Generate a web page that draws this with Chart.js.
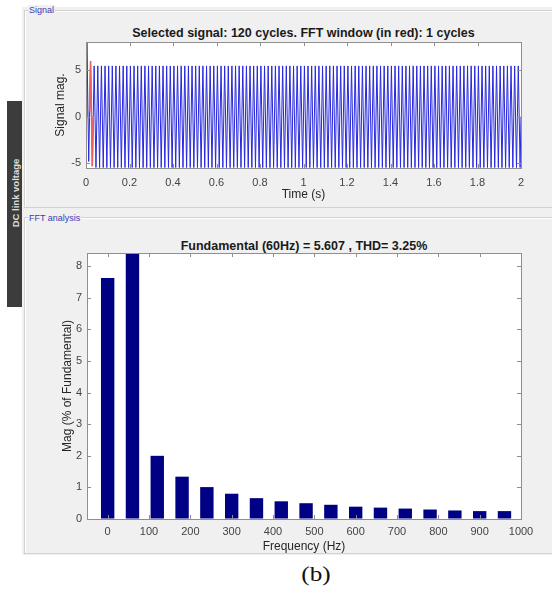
<!DOCTYPE html>
<html>
<head>
<meta charset="utf-8">
<script src="https://cdn.jsdelivr.net/npm/chart.js@4.4.1/dist/chart.umd.min.js"></script>
<style>
body { margin:0; background:#fff; font-family:"Liberation Sans", Arial, sans-serif; }
#page { position:relative; width:552px; height:592px; overflow:hidden; }
.abs { position:absolute; }
#gray { left:22px; top:7px; width:530px; height:548px; background:#f0f0f0; }
.panel { border:1px solid #d2d2d2; box-shadow:inset 1px 1px 0 #fff; }
#pTop { left:24px; top:10px; width:540px; height:196px; }
#pBot { left:24px; top:217px; width:540px; height:335px; }
.legend { font-size:9px; color:#3b3bb5; background:#f0f0f0; padding:0 1px; line-height:10px; white-space:nowrap; }
.title { font-weight:bold; font-size:12.5px; color:#1a1a1a; text-align:center; line-height:14px; white-space:nowrap; }
#strip { left:7px; top:101px; width:15px; height:206px; background:#3c3c3c; }
#stripText { left:14.5px; top:193px; transform:translate(-50%,-50%) rotate(-90deg); font-size:9.5px; font-weight:bold; color:#dcdcdc; white-space:nowrap; }
#cap { left:316px; top:574px; transform:translate(-50%,-50%) scaleX(1.2); font-family:"Liberation Serif","Times New Roman",serif; font-size:21px; color:#111; white-space:nowrap; }
canvas { position:absolute; }
</style>
</head>
<body>
<div id="page">
  <div class="abs" id="gray"></div>
  <div class="abs panel" id="pTop"></div>
  <div class="abs panel" id="pBot"></div>
  <div class="abs legend" style="left:28px; top:5px;">Signal</div>
  <div class="abs legend" style="left:28px; top:213px;">FFT analysis</div>
  <div class="abs" id="strip"></div>
  <div class="abs" id="stripText">DC link voltage</div>

  <div class="abs title" style="left:86px; width:435px; top:26px;">Selected signal: 120 cycles. FFT window (in red): 1 cycles</div>
  <div class="abs title" style="left:87px; width:434px; top:239px;">Fundamental (60Hz) = 5.607 , THD= 3.25%</div>

  <canvas id="sigChart" width="528" height="197" style="left:24px; top:10px; width:528px; height:197px;"></canvas>
  <canvas id="fftChart" width="528" height="334" style="left:24px; top:220px; width:528px; height:334px;"></canvas>

  <div class="abs" id="cap">(b)</div>
</div>

<script>
// signal: 120 cycles of 60 Hz, peak / trough of each cycle
const sigCycles = 120;
const sigFreq = 60;
const startCycle = [8.0, -4.85];   // first (blue) cycle, start-up spike
const fftCycle = [6.0, -5.35];     // the cycle used as FFT window (red)
const steadyCycle = [5.47, -5.5];  // every later cycle
const timeTicks = [0, 0.2, 0.4, 0.6, 0.8, 1, 1.2, 1.4, 1.6, 1.8, 2];
const sigTicks = [-5, 0, 5];

// FFT bars: harmonic frequency and magnitude (% of fundamental)
const harmFreqs = [0, 60, 120, 180, 240, 300, 360, 420, 480, 540, 600, 660, 720, 780, 840, 900, 960];
const harmMag = [7.63, 100, 2.0, 1.34, 1.01, 0.80, 0.66, 0.56, 0.50, 0.45, 0.39, 0.36, 0.33, 0.30, 0.27, 0.25, 0.25];
const freqTicks = [0, 100, 200, 300, 400, 500, 600, 700, 800, 900, 1000];
const magTicks = [0, 1, 2, 3, 4, 5, 6, 7, 8];

// point tables for the line chart
const sigPts = [{x: 0, y: 0}];
for (let c = 0; c < sigCycles; c++) {
	const cyc = c === 0 ? startCycle : (c === 1 ? fftCycle : steadyCycle);
	sigPts.push({x: (c + 0.25) / sigFreq, y: cyc[0]});
	sigPts.push({x: (c + 0.75) / sigFreq, y: cyc[1]});
}
sigPts.push({x: sigCycles / sigFreq, y: 0});

const fftPts = [
	{x: 1 / sigFreq, y: (startCycle[1] + fftCycle[0]) / 2},
	{x: 1.25 / sigFreq, y: fftCycle[0]},
	{x: 1.75 / sigFreq, y: fftCycle[1]},
	{x: 2 / sigFreq, y: (fftCycle[1] + steadyCycle[0]) / 2}
];

const tickFont = {family: '"Liberation Sans", Arial, sans-serif', size: 11};
const titleFont = {family: '"Liberation Sans", Arial, sans-serif', size: 12};
const textColor = '#444';
const axisColor = '#8f8f8f';

// white plot box with inward ticks on all four sides (matlab look)
const boxPlugin = {
	id: 'box',
	beforeDraw(chart) {
		const a = chart.chartArea, c = chart.ctx;
		c.save();
		c.fillStyle = '#fff';
		c.fillRect(a.left, a.top, a.right - a.left, a.bottom - a.top);
		c.restore();
	},
	afterDraw(chart) {
		const a = chart.chartArea, c = chart.ctx;
		const xs = chart.scales.x, ys = chart.scales.y;
		c.save();
		c.strokeStyle = axisColor;
		c.lineWidth = 1;
		c.beginPath();
		xs.ticks.forEach(t => {
			const px = Math.round(xs.getPixelForValue(t.value)) + 0.5;
			c.moveTo(px, a.bottom); c.lineTo(px, a.bottom - 4);
			c.moveTo(px, a.top); c.lineTo(px, a.top + 4);
		});
		ys.ticks.forEach(t => {
			const py = Math.round(ys.getPixelForValue(t.value)) + 0.5;
			c.moveTo(a.left, py); c.lineTo(a.left + 4, py);
			c.moveTo(a.right, py); c.lineTo(a.right - 4, py);
		});
		c.stroke();
		c.strokeRect(Math.round(a.left) + 0.5, Math.round(a.top) + 0.5,
			Math.round(a.right - a.left), Math.round(a.bottom - a.top));
		c.restore();
	}
};

function setTicks(list) {
	return function (scale) {
		scale.ticks = list.map(v => ({value: v}));
	};
}

// SIGNAL CHART
new Chart(document.getElementById('sigChart'), {
	type: 'line',
	data: {
		datasets: [
			{data: fftPts, borderColor: 'rgb(232,96,96)', borderWidth: 1.5, pointRadius: 0, tension: 0},
			{data: sigPts, borderColor: 'rgb(40,40,222)', borderWidth: 1, pointRadius: 0, tension: 0}
		]
	},
	options: {
		responsive: false,
		animation: false,
		events: [],
		layout: {padding: {top: 32, right: 31, left: 0, bottom: 0}},
		plugins: {legend: {display: false}, tooltip: {enabled: false}},
		scales: {
			x: {
				type: 'linear', min: 0, max: 2,
				afterBuildTicks: setTicks(timeTicks),
				afterFit: s => { s.height = 39; },
				grid: {drawOnChartArea: false, drawTicks: false},
				border: {display: false},
				ticks: {padding: 8, font: tickFont, color: textColor, maxRotation: 0, autoSkip: false, callback: v => String(v)},
				title: {display: true, text: 'Time (s)', font: titleFont, color: '#262626', padding: {top: 0, bottom: 5}}
			},
			y: {
				type: 'linear', min: -5.55, max: 8.05,
				afterBuildTicks: setTicks(sigTicks),
				afterFit: s => { s.width = 62; },
				grid: {drawOnChartArea: false, drawTicks: false},
				border: {display: false},
				ticks: {padding: 5, font: tickFont, color: textColor, callback: v => String(v)},
				title: {display: true, text: 'Signal mag.', font: titleFont, color: '#262626', padding: {top: 29, bottom: 0}}
			}
		}
	},
	plugins: [boxPlugin]
});

// FFT CHART
new Chart(document.getElementById('fftChart'), {
	type: 'bar',
	data: {
		datasets: [{
			data: harmFreqs.map((f, i) => ({x: f, y: harmMag[i]})),
			backgroundColor: '#000084',
			borderWidth: 0,
			barPercentage: 0.54,
			categoryPercentage: 1
		}]
	},
	options: {
		responsive: false,
		animation: false,
		events: [],
		layout: {padding: {top: 33, right: 31, left: 0, bottom: 0}},
		plugins: {legend: {display: false}, tooltip: {enabled: false}},
		scales: {
			x: {
				type: 'linear', min: -50, max: 1000, offset: false,
				afterBuildTicks: setTicks(freqTicks),
				afterFit: s => { s.height = 35; },
				grid: {drawOnChartArea: false, drawTicks: false, offset: false},
				border: {display: false},
				ticks: {padding: 6, font: tickFont, color: textColor, maxRotation: 0, autoSkip: false, callback: v => String(v)},
				title: {display: true, text: 'Frequency (Hz)', font: titleFont, color: '#262626', padding: {top: 0, bottom: 0}}
			},
			y: {
				type: 'linear', min: 0, max: 8.42,
				afterBuildTicks: setTicks(magTicks),
				afterFit: s => { s.width = 63; },
				grid: {drawOnChartArea: false, drawTicks: false},
				border: {display: false},
				ticks: {padding: 5, font: tickFont, color: textColor, callback: v => String(v)},
				title: {display: true, text: 'Mag (% of Fundamental)', font: titleFont, color: '#262626', padding: {top: 36, bottom: 0}}
			}
		}
	},
	plugins: [boxPlugin]
});
</script>
</body>
</html>
